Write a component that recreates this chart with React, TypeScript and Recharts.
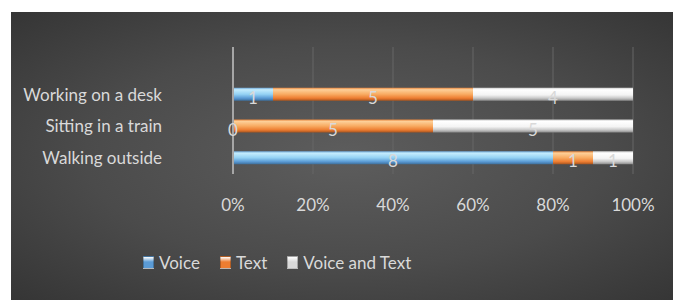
import { BarChart, Bar, XAxis, YAxis, CartesianGrid, Legend, LabelList } from "recharts";

// top row is an empty category, as in the source chart
const categories = ["", "Working on a desk", "Sitting in a train", "Walking outside"];
const voice = [null, 1, 0, 8];
const text = [null, 5, 5, 1];
const voiceAndText = [null, 4, 5, 1];
const xTicks = [0, 0.2, 0.4, 0.6, 0.8, 1];

const SERIES = [
  { key: "voice", name: "Voice", grad: "gVoice", swatch: "#5b9bd5" },
  { key: "text", name: "Text", grad: "gText", swatch: "#ed7d31" },
  { key: "both", name: "Voice and Text", grad: "gBoth", swatch: "#d9d9d9" },
];

const data = categories.map((name, i) => ({
  name,
  voice: voice[i],
  text: text[i],
  both: voiceAndText[i],
}));

const FONT = "Lato, 'DejaVu Sans', sans-serif";

function LegendContent() {
  return (
    <div style={{ display: "flex", justifyContent: "flex-start", paddingLeft: 132, gap: 20, fontFamily: FONT, fontSize: 17, color: "#d9d9d9" }}>
      {SERIES.map((s) => (
        <div key={s.key} style={{ display: "flex", alignItems: "center", gap: 5 }}>
          <div
            style={{
              width: 9,
              height: 11,
              background: `linear-gradient(#fff 0%, ${s.swatch} 45%, ${s.swatch} 100%)`,
              border: "1px solid rgba(0,0,0,0.25)",
            }}
          />
          <span>{s.name}</span>
        </div>
      ))}
    </div>
  );
}

function labelText(cx: number, cy: number, value: any) {
  return (
    <text
      x={cx}
      y={cy + 3}
      textAnchor="middle"
      dominantBaseline="central"
      fill="#d9d9d9"
      fontSize={17}
      fontFamily={FONT}
    >
      {value}
    </text>
  );
}

function renderLabel(props: any) {
  const { x, y, width, height, value } = props;
  if (value === null || value === undefined) return null;
  return labelText(x + width / 2, y + height / 2, value);
}

// a zero-width Voice segment draws no label of its own; place it at the start of the Text segment
function renderZeroVoice(props: any) {
  const { x, y, height, value } = props;
  if (value !== 0) return null;
  return labelText(x, y + height / 2, value);
}

export default function App() {
  return (
    <div
      style={{
        position: "relative",
        marginTop: 4,
        marginLeft: 3,
        width: 670,
        height: 288,
        background: "radial-gradient(ellipse at 50% 50%, #5d5d5d 0%, #4b4b4b 55%, #353535 100%)",
      }}
    >
      <BarChart
        width={670}
        height={288}
        data={data}
        layout="vertical"
        stackOffset="expand"
        margin={{ top: 35, right: 48, bottom: 45, left: 0 }}
        barSize={13}
      >
        <defs>
          <linearGradient id="gVoice" x1="0" y1="0" x2="0" y2="1">
            <stop offset="0%" stopColor="#6fa8d8" />
            <stop offset="15%" stopColor="#c4ecfd" />
            <stop offset="50%" stopColor="#94d2f4" />
            <stop offset="80%" stopColor="#5b9bd5" />
            <stop offset="100%" stopColor="#3d6f9c" />
          </linearGradient>
          <linearGradient id="gText" x1="0" y1="0" x2="0" y2="1">
            <stop offset="0%" stopColor="#e8873f" />
            <stop offset="15%" stopColor="#fdcf98" />
            <stop offset="50%" stopColor="#f8ab62" />
            <stop offset="80%" stopColor="#ed7d31" />
            <stop offset="100%" stopColor="#a85520" />
          </linearGradient>
          <linearGradient id="gBoth" x1="0" y1="0" x2="0" y2="1">
            <stop offset="0%" stopColor="#cfcfcf" />
            <stop offset="15%" stopColor="#ffffff" />
            <stop offset="55%" stopColor="#f4f4f4" />
            <stop offset="80%" stopColor="#c8c8c8" />
            <stop offset="100%" stopColor="#8a8a8a" />
          </linearGradient>
        </defs>
        <CartesianGrid horizontal={false} stroke="#676767" strokeWidth={1} />
        <XAxis
          type="number"
          domain={[0, 1]}
          ticks={xTicks}
          tickFormatter={(v) => `${Math.round(v * 100)}%`}
          axisLine={false}
          tickLine={false}
          tickSize={0}
          tickMargin={25}
          height={60}
          tick={{ fill: "#d9d9d9", fontSize: 17, fontFamily: FONT }}
        />
        <YAxis
          type="category"
          dataKey="name"
          width={222}
          axisLine={{ stroke: "#a6a6a6", strokeWidth: 2 }}
          tickLine={false}
          tickSize={0}
          tickMargin={71}
          tick={{ fill: "#d9d9d9", fontSize: 17, fontFamily: FONT }}
        />
        {SERIES.map((s) => (
          <Bar key={s.key} dataKey={s.key} name={s.name} stackId="a" fill={`url(#${s.grad})`} isAnimationActive={false}>
            <LabelList dataKey={s.key} position="center" content={renderLabel} />
            {s.key === "text" && <LabelList dataKey="voice" content={renderZeroVoice} />}
          </Bar>
        ))}
        <Legend content={<LegendContent />} wrapperStyle={{ top: 240, left: 0, width: 670 }} />
      </BarChart>
    </div>
  );
}
